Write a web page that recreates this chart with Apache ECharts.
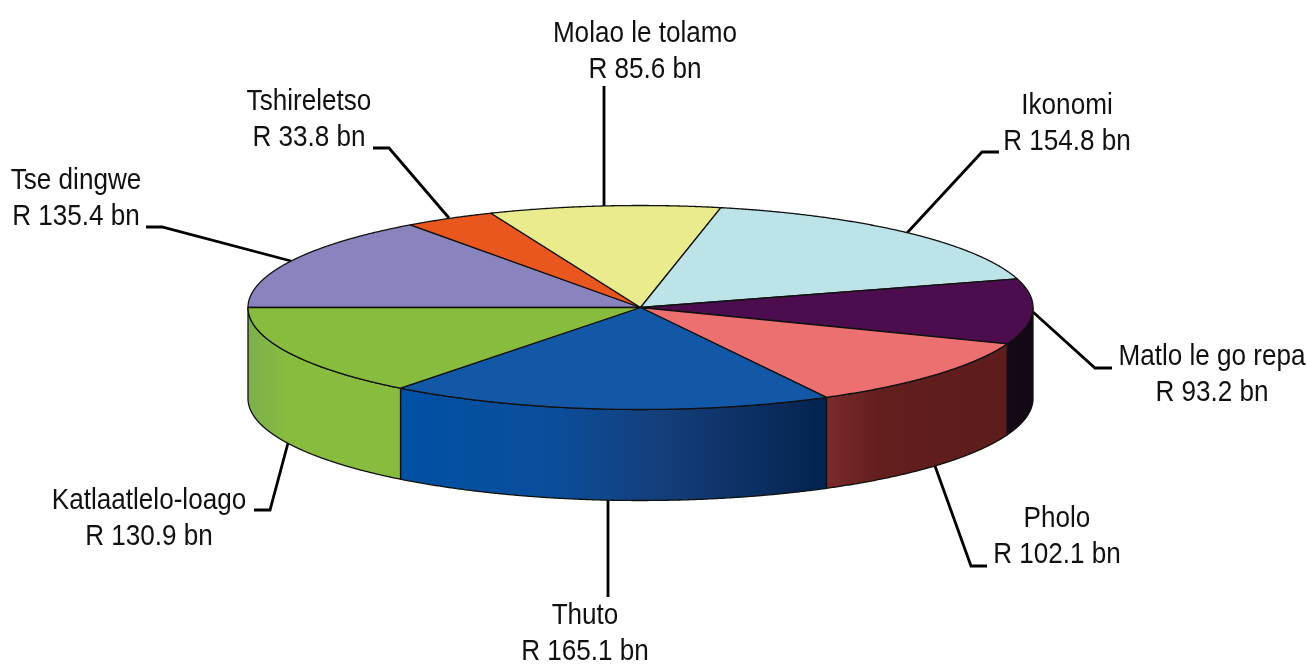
<!DOCTYPE html>
<html>
<head>
<meta charset="utf-8">
<title>Pie</title>
<script src="https://cdn.jsdelivr.net/npm/echarts@6/dist/echarts.min.js"></script>
<style>
  html, body { margin: 0; background: #fff; }
  #chart { width: 1308px; height: 668px; }
</style>
</head>
<body>
<div id="chart"></div>
<script>
// clockwise from the left edge of the pie
const categories = ['Tse dingwe', 'Tshireletso', 'Molao le tolamo', 'Ikonomi', 'Matlo le go repa', 'Pholo', 'Thuto', 'Katlaatlelo-loago'];
const amounts = [135.4, 33.8, 85.6, 154.8, 93.2, 102.1, 165.1, 130.9];
const topColors = ['#8A84BE', '#E9571F', '#EAEB8D', '#BCE3E7', '#4B0D4E', '#ED7071', '#1358A6', '#87BC3F'];
const sideColors = [
  null, null, null, null,
  [[0, '#150A17'], [1, '#120814']],
  [[0, '#7A2B2B'], [0.3, '#631E1E'], [1, '#5E1C1C']],
  [[0, '#0050A4'], [0.35, '#0A4E9B'], [0.6, '#153F7C'], [1, '#04234E']],
  [[0, '#7CAF4C'], [0.25, '#87BC3F'], [1, '#87BC3F']],
];

// pie geometry in pixels
const pie = { cx: 640.5, cy: 307.5, rx: 392.5, ry: 102, depth: 91 };

// where each label sits, and the bend and end of its leader line
const labelPos = [[76, 199], [309, 120], [645, 52], [1067, 124], [1212, 375], [1057, 537], [585, 634], [149, 519]];
const leaderEnds = [
  [[162, 227], [146, 227]],
  [[389, 148], [373, 148]],
  [[604, 86]],
  [[982, 152], [999, 152]],
  [[1095, 368], [1112, 368]],
  [[971, 566], [987, 566]],
  [[608, 597]],
  [[270, 510], [254, 510]],
];

const total = amounts.reduce((a, b) => a + b, 0);
const sliceStart = (i) => (amounts.slice(0, i).reduce((a, b) => a + b, 0) / total) * 360;
const sliceEnd = (i) => sliceStart(i) + (amounts[i] / total) * 360;

// deg runs clockwise on screen, 0 is the left edge of the pie
function rimPoint(deg, drop) {
  const rad = ((180 - deg) * Math.PI) / 180;
  return [pie.cx + pie.rx * Math.cos(rad), pie.cy - pie.ry * Math.sin(rad) + (drop || 0)];
}

function arcPoints(from, to, drop) {
  const points = [];
  const steps = Math.max(2, Math.ceil((to - from) * 4));
  for (let s = 0; s <= steps; s++) {
    points.push(rimPoint(from + ((to - from) * s) / steps, drop));
  }
  return points;
}

function renderSide(params, api) {
  const i = api.value(0);
  const from = Math.max(sliceStart(i), 180);
  const to = sliceEnd(i);
  if (to <= 180) return null;
  const upper = arcPoints(from, to, 0);
  const lower = arcPoints(from, to, pie.depth).reverse();
  const xs = upper.map((p) => p[0]);
  return {
    type: 'polygon',
    shape: { points: upper.concat(lower) },
    style: {
      fill: new echarts.graphic.LinearGradient(
        Math.min.apply(null, xs), 0, Math.max.apply(null, xs), 0,
        sideColors[i].map((s) => ({ offset: s[0], color: s[1] })),
        true
      ),
      stroke: '#111',
      lineWidth: 1.3,
    },
  };
}

function renderTop(params, api) {
  const i = api.value(0);
  return {
    type: 'polygon',
    shape: { points: [[pie.cx, pie.cy]].concat(arcPoints(sliceStart(i), sliceEnd(i), 0)) },
    style: { fill: topColors[i], stroke: '#111', lineWidth: 1.3, lineJoin: 'round' },
  };
}

function renderLabel(params, api) {
  const i = api.value(0);
  const mid = (sliceStart(i) + sliceEnd(i)) / 2;
  const onFront = mid > 205;
  const anchor = rimPoint(mid, onFront ? pie.depth : 0).map(Math.round);
  return {
    type: 'group',
    children: [
      {
        type: 'polyline',
        shape: { points: [anchor].concat(leaderEnds[i]) },
        style: { fill: null, stroke: '#000', lineWidth: 2.8 },
      },
      {
        type: 'text',
        x: labelPos[i][0],
        y: labelPos[i][1],
        scaleX: 0.87,
        style: {
          text: categories[i] + '\nR ' + api.value(1).toFixed(1) + ' bn',
          font: '30px "Liberation Sans"',
          lineHeight: 36,
          fill: '#111',
          align: 'center',
          verticalAlign: 'middle',
        },
      },
    ],
  };
}

const chart = echarts.init(document.getElementById('chart'), null, { renderer: 'canvas' });
const sliceData = amounts.map((v, i) => [i, v]);

chart.setOption({
  animation: false,
  backgroundColor: '#fff',
  series: [
    { type: 'custom', coordinateSystem: 'none', data: sliceData, z: 1, silent: true, renderItem: renderLabel },
    { type: 'custom', coordinateSystem: 'none', data: sliceData, z: 2, silent: true, renderItem: renderSide },
    { type: 'custom', coordinateSystem: 'none', data: sliceData, z: 3, silent: true, renderItem: renderTop },
  ],
});
</script>
</body>
</html>
